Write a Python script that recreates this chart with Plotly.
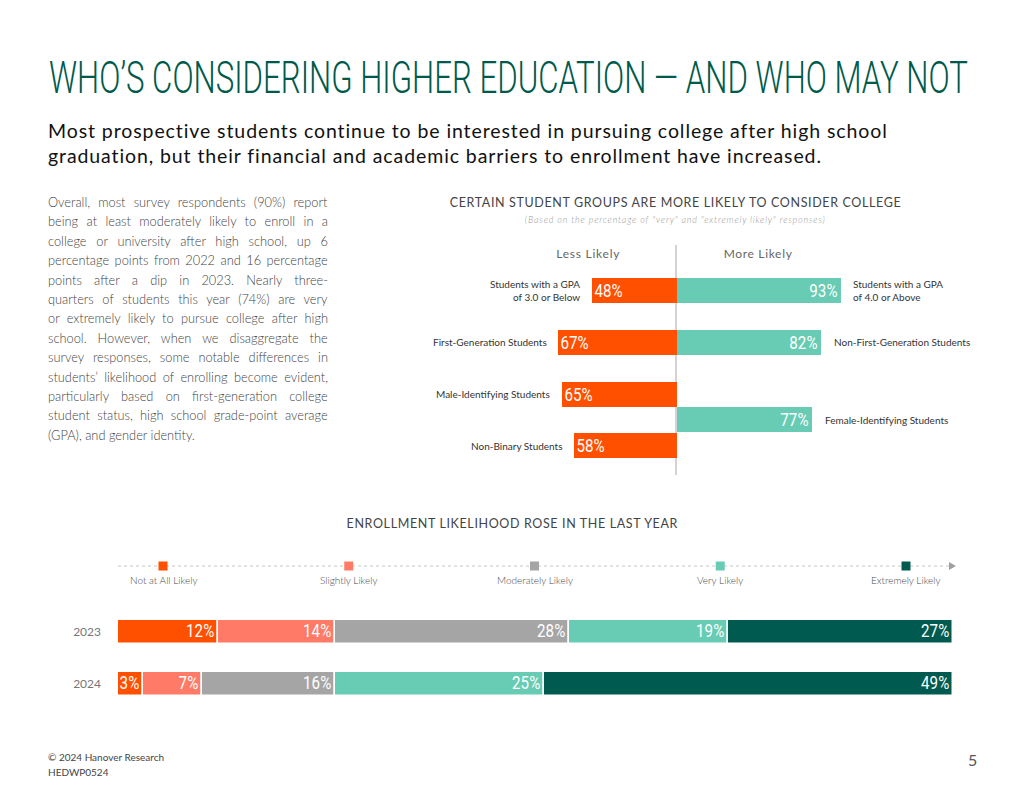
import json
import plotly.graph_objects as go

W, H = 1024, 791

# ---------------- data ----------------
title_text = "WHO’S CONSIDERING HIGHER EDUCATION — AND WHO MAY NOT"
subtitle_lines = [
    "Most prospective students continue to be interested in pursuing college after high school",
    "graduation, but their financial and academic barriers to enrollment have increased.",
]
paragraph_lines = [
    "Overall, most survey respondents (90%) report",
    "being at least moderately likely to enroll in a",
    "college or university after high school, up 6",
    "percentage points from 2022 and 16 percentage",
    "points after a dip in 2023. Nearly three-",
    "quarters of students this year (74%) are very",
    "or extremely likely to pursue college after high",
    "school. However, when we disaggregate the",
    "survey responses, some notable differences in",
    "students’ likelihood of enrolling become evident,",
    "particularly based on first-generation college",
    "student status, high school grade-point average",
    "(GPA), and gender identity.",
]
top_title = "CERTAIN STUDENT GROUPS ARE MORE LIKELY TO CONSIDER COLLEGE"
top_note = "(Based on the percentage of \"very\" and \"extremely likely\" responses)"
bottom_title = "ENROLLMENT LIKELIHOOD ROSE IN THE LAST YEAR"

less_groups = ["Students with a GPA<br>of 3.0 or Below", "First-Generation Students",
               "Male-Identifying Students", "Non-Binary Students"]
less_values = [48, 67, 65, 58]
more_groups = ["Students with a GPA<br>of 4.0 or Above", "Non-First-Generation Students",
               "Female-Identifying Students"]
more_values = [93, 82, 77]

years = ["2023", "2024"]
levels = ["Not at All Likely", "Slightly Likely", "Moderately Likely", "Very Likely", "Extremely Likely"]
level_values = {
    "Not at All Likely": [12, 3],
    "Slightly Likely": [14, 7],
    "Moderately Likely": [28, 16],
    "Very Likely": [19, 25],
    "Extremely Likely": [27, 49],
}

# ---------------- styles / layout ----------------
ORANGE = "#FF5000"
TEAL = "#68CBB3"
level_colors = ["#FF5000", "#FF7A67", "#A5A5A6", "#68CBB3", "#005A4F"]
GREEN_TITLE = "#005A4C"
ROBOTO = "Roboto, Liberation Sans, sans-serif"
LATO = "Lato, Noto Sans, sans-serif"

less_pos = [0, 1, 2, 3]
more_pos = [0, 1, 2.5]


def px(x):
    return x / W


def py(y):
    return 1 - y / H


fig = go.Figure()

bar_font = dict(family=ROBOTO, size=18.5, color="white")

# top diverging chart
fig.add_trace(go.Bar(
    x=[-v for v in less_values], y=less_pos, orientation="h", width=0.485,
    marker=dict(color=ORANGE, line=dict(width=0)),
    text=[f"{v}%" for v in less_values], textposition="inside", insidetextanchor="end",
    textangle=0, textfont=bar_font, constraintext="none",
    xaxis="x", yaxis="y", showlegend=False, hoverinfo="skip",
))
fig.add_trace(go.Bar(
    x=more_values, y=more_pos, orientation="h", width=0.485,
    marker=dict(color=TEAL, line=dict(width=0)),
    text=[f"{v}%" for v in more_values], textposition="inside", insidetextanchor="end",
    textangle=0, textfont=bar_font, constraintext="none",
    xaxis="x", yaxis="y", showlegend=False, hoverinfo="skip",
))

# bottom stacked chart
for lvl, col in zip(levels, level_colors):
    vals = level_values[lvl]
    fig.add_trace(go.Bar(
        x=vals, y=years, orientation="h", width=0.48, name=lvl,
        marker=dict(color=col, line=dict(color="white", width=1.5)),
        text=[f"{v}%" for v in vals], textposition="inside", insidetextanchor="end",
        textangle=0, textfont=bar_font, constraintext="none",
        xaxis="x2", yaxis="y2", showlegend=False, hoverinfo="skip",
    ))

annotations = []
fit = {}  # text -> [mode, target width px, anchor]  (applied in the browser)

annotations.append(dict(text=title_text, x=px(47), y=py(78), xref="paper", yref="paper",
                        xanchor="left", yanchor="middle", showarrow=False,
                        font=dict(family=ROBOTO, size=45, color=GREEN_TITLE, weight=300)))
fit[title_text] = ["scale", 919, "left"]

sub_targets = [839, 773]
for i, (line, tw) in enumerate(zip(subtitle_lines, sub_targets)):
    annotations.append(dict(text=line, x=px(46), y=py(130 + i * 25), xref="paper", yref="paper",
                            xanchor="left", yanchor="middle", showarrow=False,
                            font=dict(family=LATO, size=19.5, color="#111111")))
    fit[line] = ["letter", tw, "left"]

for i, line in enumerate(paragraph_lines):
    annotations.append(dict(text=line, x=px(46), y=py(202 + i * 19.4), xref="paper", yref="paper",
                            xanchor="left", yanchor="middle", showarrow=False,
                            font=dict(family=LATO, size=12.8, color="#3F3F3F", weight=300)))
    if i < len(paragraph_lines) - 1:
        fit[line] = ["word", 280, "left"]

annotations.append(dict(text=top_title, x=px(675), y=py(202), xref="paper", yref="paper",
                        showarrow=False, xanchor="center", yanchor="middle",
                        font=dict(family=LATO, size=12.5, color="#444444")))
fit[top_title] = ["letter", 451, "center"]
annotations.append(dict(text=top_note, x=px(675), y=py(219), xref="paper", yref="paper",
                        showarrow=False, xanchor="center", yanchor="middle",
                        font=dict(family=LATO, size=9, color="#999999", style="italic", weight=300)))
fit[top_note] = ["letter", 300, "center"]
annotations.append(dict(text="Less Likely", x=px(588), y=py(253), xref="paper", yref="paper",
                        showarrow=False, xanchor="center", yanchor="middle",
                        font=dict(family=LATO, size=12, color="#666666")))
fit["Less Likely"] = ["letter", 64, "center"]
annotations.append(dict(text="More Likely", x=px(758), y=py(253), xref="paper", yref="paper",
                        showarrow=False, xanchor="center", yanchor="middle",
                        font=dict(family=LATO, size=12, color="#666666")))
fit["More Likely"] = ["letter", 69, "center"]

for g, v, p in zip(less_groups, less_values, less_pos):
    annotations.append(dict(text=g, x=-v, y=p, xref="x", yref="y", showarrow=False,
                            xanchor="right", yanchor="middle", align="right", xshift=-9,
                            font=dict(family=LATO, size=10, color="#333333")))
for g, v, p in zip(more_groups, more_values, more_pos):
    annotations.append(dict(text=g, x=v, y=p, xref="x", yref="y", showarrow=False,
                            xanchor="left", yanchor="middle", align="left", xshift=11,
                            font=dict(family=LATO, size=10, color="#333333")))

annotations.append(dict(text=bottom_title, x=px(512), y=py(523), xref="paper", yref="paper",
                        showarrow=False, xanchor="center", yanchor="middle",
                        font=dict(family=LATO, size=12.5, color="#444444")))
fit[bottom_title] = ["letter", 331, "center"]

shapes = []
# center divider of top chart
shapes.append(dict(type="line", xref="x", yref="paper", x0=0, x1=0, y0=py(475), y1=py(245),
                   line=dict(color="#D3D3D3", width=2), layer="below"))
# legend dotted line + arrow
shapes.append(dict(type="line", xref="paper", yref="paper", x0=px(118), x1=px(949),
                   y0=py(566), y1=py(566), line=dict(color="#C8C8C8", width=1.2, dash="dot")))
shapes.append(dict(type="path", xref="paper", yref="paper",
                   path=f"M {px(949)} {py(562)} L {px(956)} {py(566)} L {px(949)} {py(570)} Z",
                   fillcolor="#A0A0A0", line=dict(width=0)))
legend_x = [163 + i * (906 - 163) / (len(levels) - 1) for i in range(len(levels))]
for lx, lvl, col in zip(legend_x, levels, level_colors):
    shapes.append(dict(type="rect", xref="paper", yref="paper",
                       x0=px(lx - 4.5), x1=px(lx + 4.5), y0=py(570.5), y1=py(561.5),
                       fillcolor=col, line=dict(width=0)))
    annotations.append(dict(text=lvl, x=px(lx), y=py(580), xref="paper", yref="paper",
                            showarrow=False, xanchor="center", yanchor="middle",
                            font=dict(family=LATO, size=10, color="#4A4A4A", weight=300)))

annotations.append(dict(text="© 2024 Hanover Research", x=px(46), y=py(757), xref="paper", yref="paper",
                        showarrow=False, xanchor="left", yanchor="middle",
                        font=dict(family=LATO, size=10, color="#444444")))
annotations.append(dict(text="HEDWP0524", x=px(46), y=py(772), xref="paper", yref="paper",
                        showarrow=False, xanchor="left", yanchor="middle",
                        font=dict(family=LATO, size=10, color="#444444")))
annotations.append(dict(text="5", x=px(972), y=py(759), xref="paper", yref="paper",
                        showarrow=False, xanchor="center", yanchor="middle",
                        font=dict(family=LATO, size=16, color="#555555")))

half = 176.5
fig.update_layout(
    width=W, height=H, autosize=False,
    margin=dict(l=0, r=0, t=0, b=0),
    paper_bgcolor="white", plot_bgcolor="rgba(0,0,0,0)",
    barmode="relative", bargap=0,
    xaxis=dict(domain=[px(676 - half), px(676 + half)], range=[-100, 100], visible=False, fixedrange=True),
    yaxis=dict(domain=[py(475), py(245)], range=[3.57, -0.89], visible=False, fixedrange=True),
    xaxis2=dict(domain=[px(118), px(953)], range=[0, 100], visible=False, fixedrange=True),
    yaxis2=dict(domain=[py(710), py(606)], type="category", categoryorder="array",
                categoryarray=years, range=[1.5, -0.5], showgrid=False, zeroline=False,
                showline=False, ticks="", ticklabelstandoff=16, anchor="x2",
                tickfont=dict(family=LATO, size=12, color="#777777"), fixedrange=True),
    annotations=annotations,
    shapes=shapes,
)

post_js = """
document.body.style.margin='0';document.body.style.overflow='hidden';
(function(){
var cfg = __CFG__;
var gd = document.getElementById('{plot_id}');
try {
  gd.querySelectorAll('text.annotation-text').forEach(function(t){
    var s = t.textContent; var c = cfg[s]; if(!c) return;
    var b = t.getBBox();
    if(c[0]==='scale'){
      var sx = c[1]/b.width;
      t.setAttribute('transform','translate('+(b.x*(1-sx))+',0) scale('+sx+',1)');
      return;
    }
    if(c[0]==='word'){
      var n = (s.match(/ /g)||[]).length;
      if(n>0 && c[1]>b.width){ t.style.wordSpacing = ((c[1]-b.width)/n)+'px'; }
    } else if(c[0]==='letter'){
      var m = s.length-1;
      if(m>0){ t.style.letterSpacing = ((c[1]-b.width)/m)+'px'; }
    }
    var b2 = t.getBBox();
    var dx = (c[2]==='left') ? (b.x - b2.x) : ((b.x + b.width/2) - (b2.x + b2.width/2));
    t.setAttribute('transform','translate('+dx+',0)');
  });
  var traces = gd.querySelectorAll('g.trace.bars');
  traces.forEach(function(tr, idx){
    tr.querySelectorAll('text.bartext').forEach(function(t){
      var b = t.getBBox(); var sx = 0.82;
      var ax = (idx===0) ? b.x : b.x + b.width;
      var old = t.getAttribute('transform') || '';
      t.setAttribute('transform', old+' translate('+ax+',0) scale('+sx+',1) translate('+(-ax)+',0)');
    });
  });
} catch(e) {}
})();
""".replace("__CFG__", json.dumps(fit))

fig.write_html("out.html", config={"displayModeBar": False}, post_script=post_js)
